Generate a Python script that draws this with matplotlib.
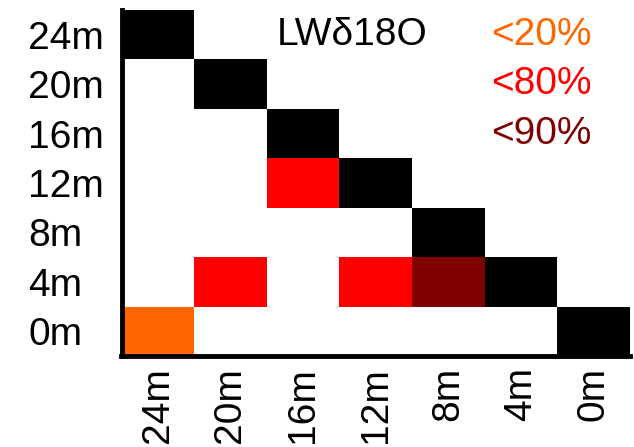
import matplotlib
matplotlib.use("Agg")
import matplotlib.pyplot as plt
import numpy as np
from matplotlib.colors import ListedColormap, BoundaryNorm

plt.rcParams['font.family'] = ['Liberation Sans', 'DejaVu Sans']

depths = ["24m", "20m", "16m", "12m", "8m", "4m", "0m"]
# 0 = none, 1 = <20%, 2 = <80%, 3 = <90%, 4 = same depth
levels = [
    [4, 0, 0, 0, 0, 0, 0],
    [0, 4, 0, 0, 0, 0, 0],
    [0, 0, 4, 0, 0, 0, 0],
    [0, 0, 2, 4, 0, 0, 0],
    [0, 0, 0, 0, 4, 0, 0],
    [0, 2, 0, 2, 3, 4, 0],
    [1, 0, 0, 0, 0, 0, 4],
]
level_labels = ["<20%", "<80%", "<90%"]
level_colors = ["#FF6600", "#FF0000", "#800000"]
title = "LW\u03b418O"

cmap = ListedColormap(["white"] + level_colors + ["black"])
norm = BoundaryNorm(np.arange(-0.5, 5.5, 1), cmap.N)

fig = plt.figure(figsize=(6.34, 4.47), dpi=100)
ax = fig.add_axes([121.5 / 634, 1 - 356 / 447, (630 - 121.5) / 634, (356 - 10) / 447])

ax.pcolormesh(np.arange(-0.5, 7.5, 1), np.arange(-0.5, 7.5, 1), np.array(levels),
              cmap=cmap, norm=norm, zorder=1)
ax.set_xlim(-0.5, 6.5)
ax.set_ylim(6.5, -0.5)

ax.set_xticks(range(len(depths)))
ax.set_xticklabels(depths, rotation=90)
ax.set_yticks(range(len(depths)))
ax.set_yticklabels(depths, ha='left')
ax.tick_params(length=0, labelsize=28)
ax.tick_params(axis='y', pad=67)
ax.tick_params(axis='x', pad=8)

for s in ["top", "right"]:
    ax.spines[s].set_visible(False)
for s in ["left", "bottom"]:
    ax.spines[s].set_linewidth(3.5)
    ax.spines[s].set_zorder(3)

ax.text(2.68, 0, title, fontsize=28, ha='center', va='center')
for i, (lab, col) in enumerate(zip(level_labels, level_colors)):
    ax.text(5.97, i, lab, fontsize=28, color=col, ha='right', va='center')

fig.savefig("out.png", dpi=100)
